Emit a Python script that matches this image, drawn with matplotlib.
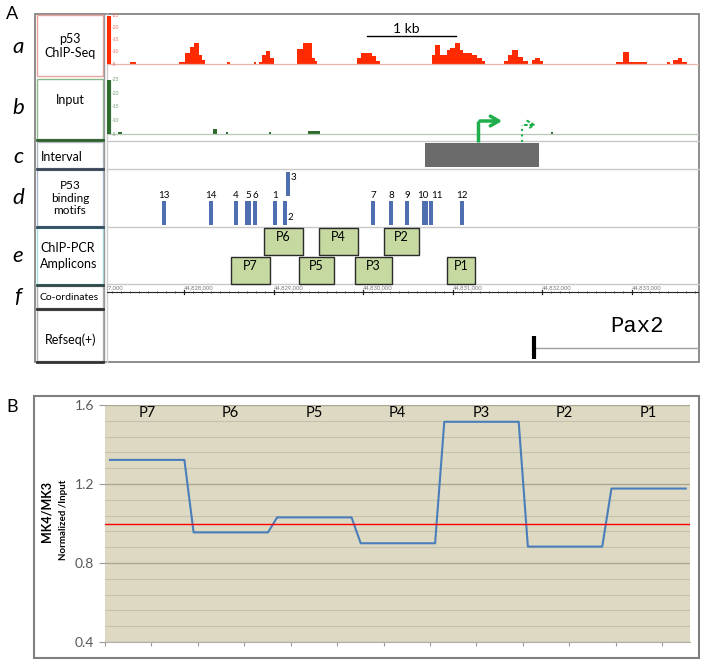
import matplotlib.pyplot as plt
import numpy as np
from matplotlib.patches import Rectangle

# 1. Data (genomic positions as bp offsets from 44,828,000)
ORIGIN = 44_828_000

# ChIP-Seq coverage bins: (start, end, value)
CHIP_BINS = [
    (-603, -536, 5.8), (-56, 11, 5.8), (11, 67, 9.6), (67, 112, 12.1),
    (112, 167, 13.8), (167, 201, 8.8), (201, 234, 6.7), (480, 513, 5.8),
    (781, 804, 5.8), (837, 870, 5.8), (870, 915, 8.8), (915, 960, 10.4),
    (960, 1004, 7.5), (1261, 1328, 11.3), (1328, 1428, 13.8), (1428, 1462, 7.5),
    (1462, 1484, 6.3), (1931, 1975, 7.5), (1975, 2098, 9.6), (2098, 2143, 8.3),
    (2143, 2187, 6.3), (2768, 2801, 8.8), (2801, 2857, 12.9), (2857, 2935, 8.8),
    (2935, 2969, 10.8), (2969, 3024, 11.7), (3024, 3080, 13.8), (3080, 3114, 10.8),
    (3114, 3214, 9.6), (3214, 3270, 8.8), (3270, 3326, 7.5), (3326, 3359, 6.3),
    (3571, 3616, 6.3), (3616, 3660, 8.8), (3660, 3727, 10.8), (3727, 3783, 7.9),
    (3783, 3839, 6.3), (3884, 3917, 6.7), (3917, 3973, 7.5), (3973, 4006, 6.3),
    (4821, 4899, 5.8), (4899, 4966, 10.0), (4966, 5167, 5.8), (5390, 5424, 5.8),
    (5457, 5513, 6.7), (5513, 5558, 7.5), (5558, 5613, 5.8),
]
INPUT_BINS = [
    (-737, -692, 5.75), (324, 368, 6.9), (469, 491, 5.75),
    (949, 971, 5.75), (1384, 1518, 6.1), (4096, 4118, 5.75),
]
TRACK_TICKS = [5, 10, 15, 20, 25]

MOTIF_IDS = ["13", "14", "4", "5", "6", "1", "2", "3", "7", "8", "9", "10", "11", "12"]
MOTIF_POS = [-223, 301, 580, 714, 792, 1016, 1127, 1161, 2109, 2310, 2489, 2690, 2757, 3102]
MOTIF_LEN = [40, 40, 40, 60, 40, 40, 40, 40, 40, 40, 40, 60, 40, 40]

AMP_NAMES = ["P7", "P6", "P5", "P4", "P3", "P2", "P1"]
AMP_START = [525, 893, 1283, 1507, 1908, 2232, 2935]
AMP_END = [960, 1328, 1674, 1942, 2321, 2623, 3248]

INTERVAL = (2690, 3962)
TSS_MAIN = 3281
TSS_ALT = 3772
PAX2_START = 3906
RULER_KB = [-1000, 0, 1000, 2000, 3000, 4000, 5000]

ROW_LETTERS = ["a", "b", "c", "d", "e", "f"]
ROW_LABELS = ["p53\nChIP-Seq", "Input", "Interval", "P53\nbinding\nmotifs",
              "ChIP-PCR\nAmplicons", "Co-ordinates", "Refseq(+)"]

# panel B
ENRICH = [1.322, 0.955, 1.031, 0.900, 1.515, 0.883, 1.177]

# 2. Figure helpers
W, H = 705, 664
fig = plt.figure(figsize=(W / 100, H / 100), dpi=100)
plt.rcParams["font.family"] = ["Lato", "DejaVu Sans"]

bg = fig.add_axes([0, 0, 1, 1])
bg.set_xlim(0, W)
bg.set_ylim(H, 0)
bg.axis("off")


def px_axes(x0, y0, x1, y1):
    a = fig.add_axes([x0 / W, 1 - y1 / H, (x1 - x0) / W, (y1 - y0) / H])
    a.patch.set_alpha(0)
    return a


def frame(x0, y0, x1, y1, ec, lw=1.0, fc="none"):
    bg.add_patch(Rectangle((x0, y0), x1 - x0, y1 - y0, fc=fc, ec=ec, lw=lw))


XLIM = (-859, 5747)

# 3. Panel A frame and label column
frame(35, 14, 699, 362, "#7a7a7a", 1.2)
bg.plot([104, 104], [14, 362], color="#9a9a9a", lw=1)
bg.plot([107, 107], [14, 362], color="#d0d0d0", lw=1)

rows = [(14, 77, "#e8a49c", None), (78, 140, "#8cb88c", "#2d5e2d"),
        (141, 169, "#b0b8c0", "#3b4757"), (169, 227, "#aab8cc", "#2f4f5f"),
        (227, 285, "#a8dede", "#304848"), (285, 309, "#b0b0b0", "#333333"),
        (309, 362, "#b0b0b0", "#333333")]
for (y0, y1, ec, bottom) in rows:
    frame(37, y0 + 1, 103, y1 - 1, ec, 1.0)
    if bottom:
        bg.plot([37, 103], [y1, y1], color=bottom, lw=2)

bg.text(70, 46, ROW_LABELS[0], ha="center", va="center", fontsize=9, linespacing=1.2)
bg.text(70, 100, ROW_LABELS[1], ha="center", va="center", fontsize=9)
bg.text(41, 157, ROW_LABELS[2], ha="left", va="center", fontsize=9)
bg.text(70, 198, ROW_LABELS[3], ha="center", va="center", fontsize=8.5, linespacing=1.15)
bg.text(40, 256, ROW_LABELS[4], ha="left", va="center", fontsize=9, linespacing=1.4)
bg.text(39, 297, ROW_LABELS[5], ha="left", va="center", fontsize=7.5)
bg.text(45, 340, ROW_LABELS[6], ha="left", va="center", fontsize=9)

for letter, y in zip(ROW_LETTERS, [47, 108, 157, 198, 256, 297]):
    bg.text(18, y, letter, ha="center", va="center", fontsize=16, style="italic")
bg.text(12, 14, "A", ha="center", va="center", fontsize=13)
bg.text(12, 407, "B", ha="center", va="center", fontsize=13)

# data row separators
for y in [141, 169, 227, 284]:
    bg.plot([107, 699], [y, y], color="#c8c8c8", lw=1)

# 4. ChIP-Seq and Input tracks
ax_a = px_axes(107, 14, 699, 77)
ax_a.set_xlim(*XLIM)
ax_a.set_ylim(-0.4, 25.8)
ax_a.axis("off")
for s, e, v in CHIP_BINS:
    ax_a.bar(s, v - 5, width=e - s, bottom=5, align="edge", color="#ff2a00", lw=0)
ax_a.axhline(5, color="#e8b4ac", lw=0.9)

ax_b = px_axes(107, 78, 699, 140)
ax_b.set_xlim(*XLIM)
ax_b.set_ylim(2.8, 25.7)
ax_b.axis("off")
for s, e, v in INPUT_BINS:
    ax_b.bar(s, v - 5, width=e - s, bottom=5, align="edge", color="#2d6e2d", lw=0)
ax_b.axhline(5, color="#b8c8b8", lw=0.9)

for ax, col, bar in [(ax_a, "#e87060", "#ff2a00"), (ax_b, "#70a070", "#2d6e2d")]:
    ax.plot([XLIM[0] + 20, XLIM[0] + 20], [5, 25], color=bar, lw=3, solid_capstyle="butt")
    for t in TRACK_TICKS:
        ax.text(XLIM[0] + 50, t, f"-{t}", fontsize=3.5, color=col, va="center", ha="left")

# 5. Interval, motifs, amplicons, ruler, refseq (y in pixel units)
ax_c = px_axes(107, 141, 699, 362)
ax_c.set_xlim(*XLIM)
ax_c.set_ylim(362, 141)
ax_c.axis("off")

ax_c.add_patch(Rectangle((INTERVAL[0], 143), INTERVAL[1] - INTERVAL[0], 24,
                         fc="#6b6b6b", ec="none"))

green = "#1fae4b"
ax_c.plot([TSS_MAIN, TSS_MAIN], [142, 121], color=green, lw=2.5, clip_on=False,
          solid_capstyle="butt")
ax_c.annotate("", xy=(TSS_MAIN + 300, 121), xytext=(TSS_MAIN - 10, 121),
              arrowprops=dict(arrowstyle="->,head_length=0.6,head_width=0.35",
                              color=green, lw=2.5), annotation_clip=False)
ax_c.plot([TSS_ALT, TSS_ALT], [142, 125], color=green, lw=1.5, ls=":", clip_on=False)
ax_c.annotate("", xy=(TSS_ALT + 190, 125), xytext=(TSS_ALT, 125),
              arrowprops=dict(arrowstyle="->,head_length=0.5,head_width=0.3",
                              color=green, lw=1.5, ls=":"), annotation_clip=False)

label_shift = {"10": -25, "11": 60}
for mid, pos, ln in zip(MOTIF_IDS, MOTIF_POS, MOTIF_LEN):
    if mid == "3":
        ax_c.add_patch(Rectangle((pos - ln / 2, 172), ln, 24, fc="#4f6fb0", ec="none"))
        ax_c.text(pos + 30, 177, mid, fontsize=7, ha="left", va="center")
    else:
        ax_c.add_patch(Rectangle((pos - ln / 2, 201), ln, 24, fc="#4f6fb0", ec="none"))
        if mid == "2":
            ax_c.text(pos + 30, 217, mid, fontsize=7, ha="left", va="center")
        else:
            ax_c.text(pos + label_shift.get(mid, 0), 195, mid, fontsize=7,
                      ha="center", va="center")

for i, (name, s, e) in enumerate(zip(AMP_NAMES, AMP_START, AMP_END)):
    y0, y1 = (257, 284) if i % 2 == 0 else (228, 255)
    ax_c.add_patch(Rectangle((s, y0), e - s, y1 - y0, fc="#c5d9a0", ec="#2b2b2b", lw=1))
    ax_c.text((s + e) / 2, y0 + 9, name, ha="center", va="center", fontsize=9)

# coordinate ruler
ax_c.plot(XLIM, [292, 292], color="#222222", lw=0.8)
for t in np.arange(-800, 5800, 100):
    ax_c.plot([t, t], [291, 293], color="#444444", lw=0.4)
for t in RULER_KB:
    ax_c.plot([t, t], [289.5, 294], color="#222222", lw=0.9)
    ax_c.text(t, 287.5, f"{ORIGIN + t:,}", fontsize=4.2, color="#7a7a7a",
              ha="left", va="center", clip_on=True)

# refseq gene
ax_c.plot([PAX2_START, XLIM[1]], [348, 348], color="#a0a0a0", lw=1)
ax_c.plot([PAX2_START, PAX2_START], [336, 359], color="black", lw=3, solid_capstyle="butt")
ax_c.text(5055, 327, "Pax2", fontsize=16, ha="center", va="center",
          family=["Liberation Mono", "DejaVu Sans Mono"])
bg.plot([367, 456], [36, 36], color="black", lw=1)
bg.text(406, 29, "1 kb", ha="center", va="center", fontsize=10)

# 6. Panel B
frame(34, 396, 699, 658, "#7f7f7f", 1.5)
axb = px_axes(105, 405, 690, 642)
axb.patch.set_alpha(1)
axb.set_facecolor("#ddd9c3")
axb.set_xlim(0, 7)
axb.set_ylim(0.4, 1.6)
axb.set_yticks([0.4, 0.8, 1.2, 1.6])
axb.set_yticks(np.arange(0.4, 1.61, 0.08), minor=True)
axb.yaxis.grid(True, which="minor", color="#c6c2ad", lw=0.8)
axb.yaxis.grid(True, which="major", color="#aaa692", lw=1)
axb.set_axisbelow(True)
axb.set_xticks(np.arange(0, 7, 5 / 9))
axb.set_xticklabels([])
axb.tick_params(axis="x", length=3, color="#9a9a9a")
axb.tick_params(axis="y", which="major", length=4, color="#9a9a9a", labelcolor="#595959",
                labelsize=10, pad=4)
axb.tick_params(axis="y", which="minor", length=0)
for sp in ["top", "right", "left"]:
    axb.spines[sp].set_visible(False)
axb.spines["bottom"].set_color("#b0b0b0")

xs, ys = [], []
for i, v in enumerate(ENRICH):
    xs += [i + 0.06, i + 0.95]
    ys += [v, v]
axb.plot(xs, ys, color="#4a7ebb", lw=1.5)
axb.axhline(1.0, color="#ff0000", lw=1)
for i, name in enumerate(AMP_NAMES):
    axb.text(i + 0.5, 1.56, name, ha="center", va="center", fontsize=10.5)

bg.text(47, 511, "MK4/MK3", rotation=90, ha="center", va="center", fontsize=9,
        fontweight="bold")
bg.text(63, 520, "Normalized /Input", rotation=90, ha="center", va="center",
        fontsize=7, fontweight="bold")

fig.savefig("out.png", dpi=100)
